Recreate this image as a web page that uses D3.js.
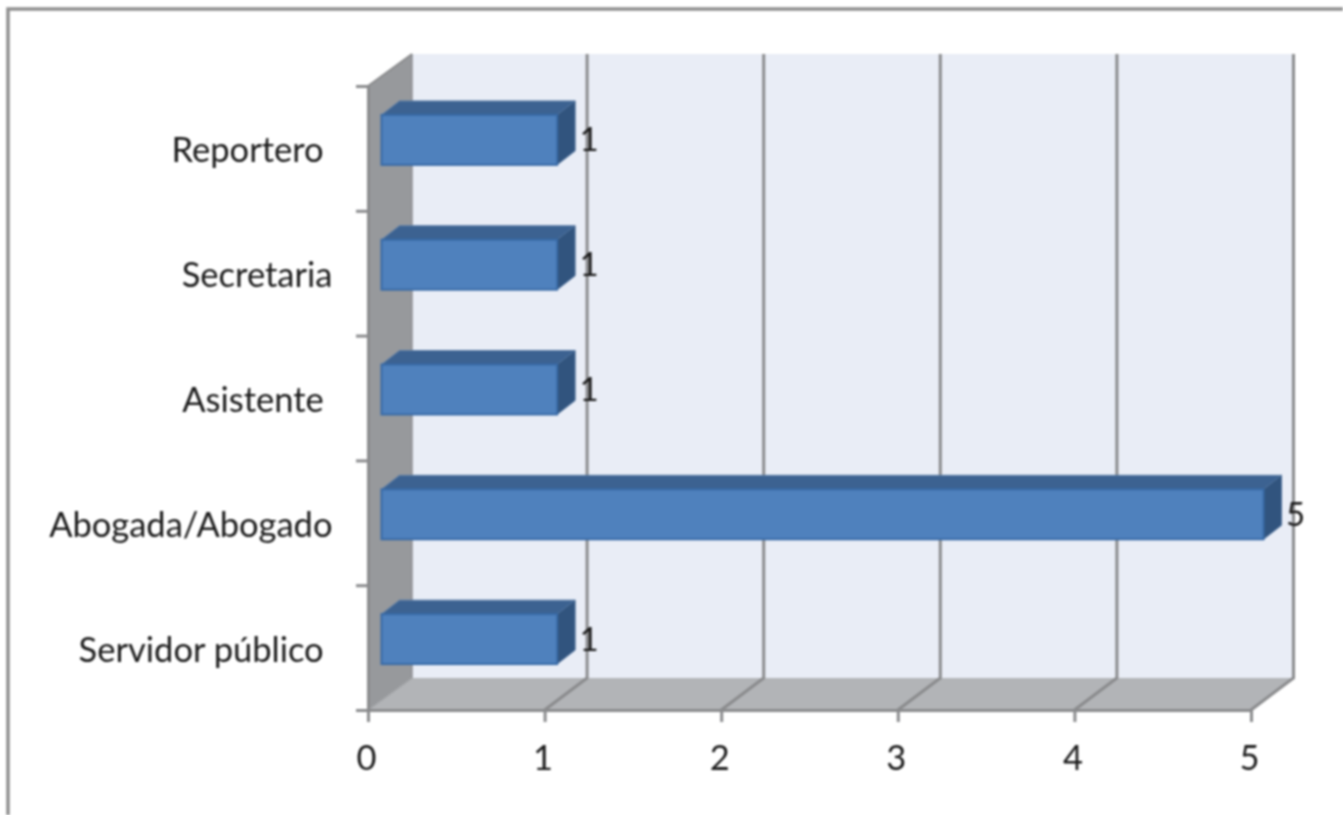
<!DOCTYPE html>
<html>
<head>
<meta charset="utf-8">
<style>
html, body { margin: 0; padding: 0; background: #fff; overflow: hidden; }
#chart { display: block; filter: blur(0.8px); }
text { font-family: Lato, "Open Sans", sans-serif; fill: #1a1a1a; white-space: pre; }
</style>
</head>
<body>
<svg id="chart" width="1343" height="815"></svg>
<script src="https://d3js.org/d3.v7.min.js"></script>
<script>
    // bottom to top, the same order as the sheet
    const categories = ["Servidor público ", "Abogada/Abogado", "Asistente ", "Secretaria", "Reportero "];
    const values = [1, 5, 1, 1, 1];
    const xTicks = [0, 1, 2, 3, 4, 5];

    const svg = d3.select("#chart");
    const left = 368, right = 1251, top_ = 86, bottom = 710;
    const depthX = 42.5, depthY = 32;     // depth of the 3d box
    const wallX = 44;                     // side wall is a bit wider than the grid offset
    const barDepthX = 18, barDepthY = 14, barOffX = 13.5, barOffY = 8.5;
    const grey = "#8a8b8d";

    const x = d3.scaleLinear().domain([0, 5]).range([left, right]);
    const y = d3.scaleBand().domain(categories).range([bottom, top_]).paddingInner(0.6).paddingOuter(0.3);
    const yEdge = d3.scaleLinear().domain([0, categories.length]).range([bottom, top_]);
    const poly = pts => pts.map(p => p.join(",")).join(" ");

    // outer frame of the pasted picture
    svg.append("path").attr("d", "M8,815V9H1343")
        .attr("fill", "none").attr("stroke", "#8f8f8f").attr("stroke-width", 3.5);

    // back wall, side wall and floor
    svg.append("rect").attr("x", left + wallX).attr("y", top_ - depthY)
        .attr("width", right + depthX - left - wallX).attr("height", bottom - top_)
        .attr("fill", "#e9edf6");
    svg.append("polygon")
        .attr("points", poly([[left, top_], [left + wallX, top_ - depthY], [left + wallX, bottom - depthY], [left, bottom]]))
        .attr("fill", "#97999c");
    svg.append("polygon")
        .attr("points", poly([[left, bottom], [left + wallX, bottom - depthY], [right + depthX, bottom - depthY], [right, bottom]]))
        .attr("fill", "#b2b4b7");

    // gridlines on the back wall and across the floor
    svg.selectAll(".grid").data(xTicks.slice(1)).enter().append("path")
        .attr("class", "grid")
        .attr("d", d => `M${x(d) + depthX},${top_ - depthY}V${bottom - depthY}L${x(d)},${bottom}`)
        .attr("fill", "none")
        .attr("stroke", grey)
        .attr("stroke-width", 3);
    svg.append("path")
        .attr("d", `M${left + wallX},${top_ - depthY}V${bottom - depthY}`)
        .attr("stroke", "#8f9194").attr("stroke-width", 1.5);
    svg.append("path")
        .attr("d", `M${left},${bottom}L${left + wallX},${bottom - depthY}`)
        .attr("stroke", "#a0a2a5").attr("stroke-width", 1.5);
    svg.append("path")
        .attr("d", `M${left},${top_}L${left + wallX},${top_ - depthY}`)
        .attr("stroke", grey).attr("stroke-width", 2);

    // bars
    const bars = svg.selectAll(".bar")
        .data(categories.map((c, i) => ({ name: c, value: values[i] })))
        .enter().append("g").attr("class", "bar");
    const bx0 = left + barOffX;
    const bx1 = d => x(d.value) + barOffX - 1;
    const by0 = d => y(d.name) - barOffY;
    const by1 = d => by0(d) + y.bandwidth();

    bars.append("polygon")
        .attr("points", d => poly([[bx0, by0(d)], [bx0 + barDepthX, by0(d) - barDepthY], [bx1(d) + barDepthX, by0(d) - barDepthY], [bx1(d), by0(d)]]))
        .attr("fill", "#3c6291").attr("stroke", "#5d7fa8").attr("stroke-width", 1);
    bars.append("polygon")
        .attr("points", d => poly([[bx1(d), by0(d)], [bx1(d) + barDepthX, by0(d) - barDepthY], [bx1(d) + barDepthX, by1(d) - barDepthY], [bx1(d), by1(d)]]))
        .attr("fill", "#31547e").attr("stroke", "#4a6d98").attr("stroke-width", 1);
    bars.append("rect")
        .attr("x", bx0).attr("y", by0)
        .attr("width", d => bx1(d) - bx0).attr("height", y.bandwidth())
        .attr("fill", "#4f81bd").attr("stroke", "#386aa6").attr("stroke-width", 2);

    // value labels
    bars.append("text")
        .attr("x", d => bx1(d) + barDepthX + 14)
        .attr("y", d => by0(d) + 25)
        .attr("dy", "0.35em")
        .attr("text-anchor", "middle")
        .attr("font-size", 33)
        .text(d => d.value);

    // axes
    const xAxis = svg.append("g").attr("transform", `translate(0,${bottom})`)
        .call(d3.axisBottom(x).tickValues(xTicks).tickFormat(d3.format("d")).tickSize(12).tickPadding(24));
    const edgeAxis = svg.append("g").attr("transform", `translate(${left},0)`)
        .call(d3.axisLeft(yEdge).ticks(categories.length).tickFormat("").tickSize(12));
    const yAxis = svg.append("g").attr("transform", `translate(332.5,3)`)
        .call(d3.axisLeft(y).tickSize(0).tickPadding(0));
    yAxis.select(".domain").remove();

    [xAxis, edgeAxis].forEach(a => {
        a.selectAll(".domain,line").attr("stroke", grey).attr("stroke-width", 3);
    });
    svg.selectAll("g.tick text")
        .attr("font-size", 34.5)
        .attr("font-family", null);
    xAxis.selectAll("text").attr("dx", -2);
</script>
</body>
</html>
